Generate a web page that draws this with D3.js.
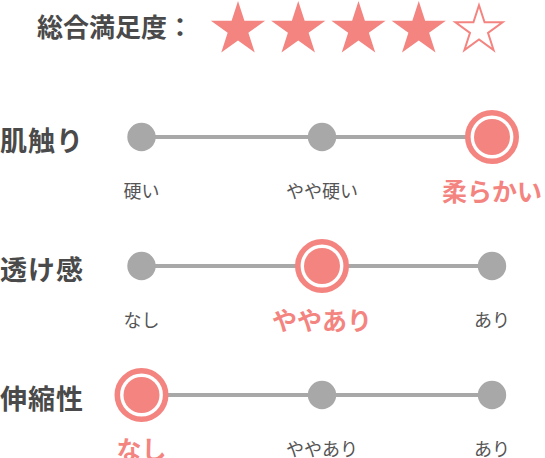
<!DOCTYPE html>
<html>
<head>
<meta charset="utf-8">
<script src="https://cdn.jsdelivr.net/npm/d3@7"></script>
<style>
  body { margin: 0; background: #fff; }
  svg { display: block; font-family: "Noto Sans CJK JP", "Noto Sans", sans-serif; }
</style>
</head>
<body>
<svg id="chart"></svg>
<script>
// data
var titleText = "総合満足度："
var rating = 4
var maxRating = 5
var categories = ["肌触り", "透け感", "伸縮性"]
var levelLabels = [
    ["硬い", "やや硬い", "柔らかい"],
    ["なし", "ややあり", "あり"],
    ["なし", "ややあり", "あり"]
]
var selected = [2, 1, 0]

var width = 545, height = 458
var red = "#f48480", grey = "#a8a8a8", dark = "#4a4a4a"

var svg = d3.select("#chart")
    .attr("width", width)
    .attr("height", height)

// title + stars
svg.append("text")
    .attr("x", 37)
    .attr("y", 37)
    .attr("font-size", 26)
    .attr("font-weight", 700)
    .attr("fill", dark)
    .text(titleText)

var starX = d3.scaleLinear().domain([0, maxRating - 1]).range([238, 479])
var ka = 0.89081309152928522810
var starFill = d3.symbol(d3.symbolStar).size(28.5 * 28.5 / ka)
var starEmpty = d3.symbol(d3.symbolStar).size(24.8 * 24.8 / ka)

svg.append("g").selectAll("path")
    .data(d3.range(maxRating))
    .join("path")
    .attr("transform", d => d < rating
        ? `translate(${starX(d)},29.5)`
        : `translate(${starX(d)},30)`)
    .attr("d", d => d < rating ? starFill() : starEmpty())
    .attr("fill", d => d < rating ? red : "#fff")
    .attr("stroke", d => d < rating ? "none" : red)
    .attr("stroke-width", 2)

// scales for rows
var x = d3.scaleLinear().domain([0, 1, 2]).range([141.5, 322, 492])
var y = d3.scalePoint().domain(categories).range([137, 395])

var rows = svg.append("g").selectAll("g")
    .data(categories)
    .join("g")
    .attr("transform", d => `translate(0,${y(d)})`)

rows.append("text")
    .attr("x", 0)
    .attr("y", 14)
    .attr("font-size", 27)
    .attr("letter-spacing", 1)
    .attr("font-weight", 700)
    .attr("fill", dark)
    .text(d => d)

rows.append("line")
    .attr("x1", x(0))
    .attr("x2", x(2))
    .attr("stroke", grey)
    .attr("stroke-width", 4)

rows.each(function(cat, i) {
    var g = d3.select(this)
    var levels = levelLabels[i].map((t, j) => ({t: t, j: j, sel: j === selected[i]}))

    g.selectAll("circle.dot")
        .data(levels.filter(d => !d.sel))
        .join("circle")
        .attr("class", "dot")
        .attr("cx", d => x(d.j))
        .attr("r", 14.2)
        .attr("fill", grey)

    var s = levels.filter(d => d.sel)
    g.selectAll("circle.ring")
        .data(s)
        .join("circle")
        .attr("class", "ring")
        .attr("cx", d => x(d.j))
        .attr("r", 24.2)
        .attr("fill", "#fff")
        .attr("stroke", red)
        .attr("stroke-width", 5.6)
    g.selectAll("circle.core")
        .data(s)
        .join("circle")
        .attr("class", "core")
        .attr("cx", d => x(d.j))
        .attr("r", 18)
        .attr("fill", red)

    g.selectAll("text.lvl")
        .data(levels)
        .join("text")
        .attr("class", "lvl")
        .attr("x", d => x(d.j))
        .attr("y", d => d.sel ? 64 : 61)
        .attr("text-anchor", "middle")
        .attr("font-size", d => d.sel ? 25 : 18)
        .attr("font-weight", d => d.sel ? 700 : 400)
        .attr("fill", d => d.sel ? red : "#555")
        .text(d => d.t)
})
</script>
</body>
</html>
